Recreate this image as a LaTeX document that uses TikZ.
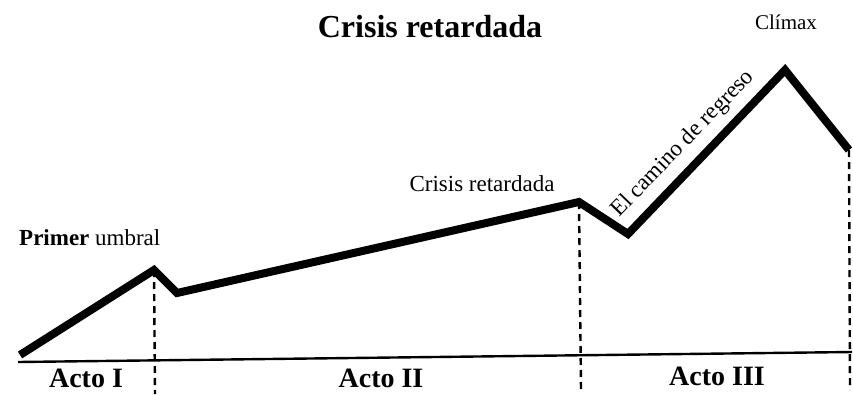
\documentclass[tikz,border=0pt]{standalone}
\usepackage{fontspec}
\setmainfont{Liberation Serif}
\begin{document}
\begin{tikzpicture}[x=1pt,y=-1pt,
  plot/.style={line width=8pt,line join=miter,miter limit=3},
  guide/.style={line width=2.4pt,dash pattern=on 7pt off 5pt},
  axis/.style={line width=2.4pt},
  small/.style={font=\fontsize{23}{26}\selectfont,inner sep=0pt},
  act/.style={font=\fontsize{28}{32}\selectfont\bfseries,inner sep=0pt},
  title/.style={font=\fontsize{32}{36}\selectfont\bfseries,inner sep=0pt}]
\useasboundingbox (0,0) rectangle (853,394);
% curve points
\coordinate (s) at (20,355);
\coordinate (p1) at (154,270);
\coordinate (d1) at (177,293);
\coordinate (cr) at (579,202);
\coordinate (d2) at (628,234);
\coordinate (cl) at (785,70);
\coordinate (e) at (849,150);
% baseline ends
\coordinate (bl) at (18,362);
\coordinate (br) at (852,352);
% dashed bottoms
\coordinate (g1) at (155,394);
\coordinate (g2) at (581,390);
\coordinate (g3) at (850,390);
% baseline
\draw[axis] (bl) -- (br);
% dashed guides
\draw[guide] (p1) -- (g1);
\draw[guide] (cr) -- (g2);
\draw[guide] (e) -- (g3);
% plot
\draw[plot] (s) -- (p1) -- (d1) -- (cr) -- (d2) -- (cl) -- (e);
% labels
\node[title] (t) at (430,27) {Crisis retardada};
\node[small,font=\fontsize{21}{24}\selectfont] (lcl) at (786,22) {Clímax};
\node[small] (lcr) at (482,184) {Crisis retardada};
\node[small,anchor=west] (lpu) at (19,238) {\textbf{Primer} umbral};
\node[small,rotate=46] (lcr2) at (683,144) {El camino de regreso};
\node[act] (a1) at (86,378) {Acto I};
\node[act] (a2) at (381,378) {Acto II};
\node[act] (a3) at (717,376) {Acto III};
\end{tikzpicture}
\end{document}
